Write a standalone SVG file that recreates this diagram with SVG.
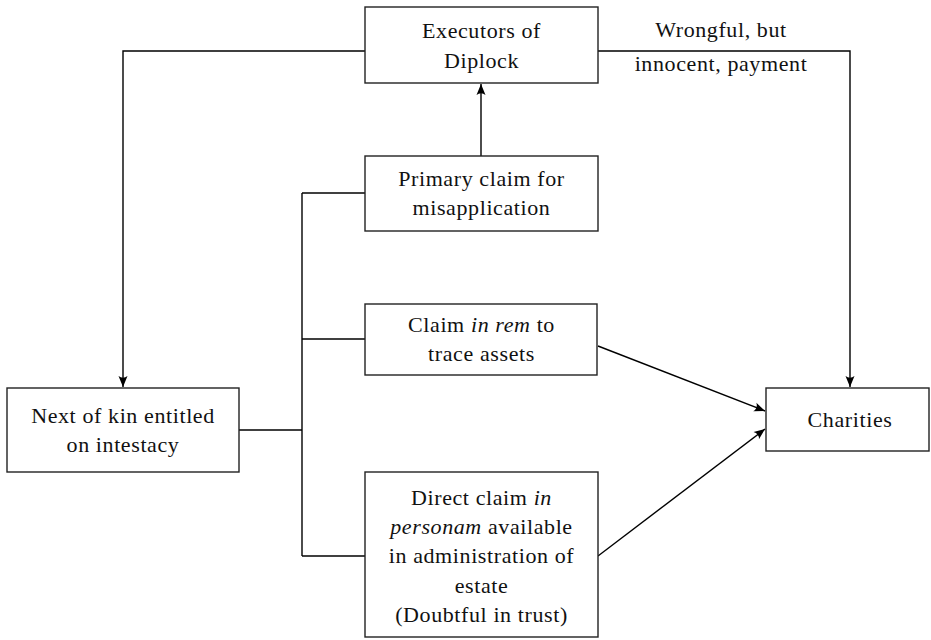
<svg xmlns="http://www.w3.org/2000/svg" width="931" height="640" viewBox="0 0 931 640">
  <defs>
    <marker id="arrow" viewBox="-12 -6 14 12" markerWidth="14" markerHeight="12" refX="0" refY="0" orient="auto" markerUnits="userSpaceOnUse">
      <path d="M0,0 L-11,-4.5 Q-7.5,0 -11,4.5 Z" fill="#000"/>
    </marker>
  </defs>
  <style>
    .box { fill: #fff; stroke: #222; stroke-width: 1.4; }
    .lbl { font-family: "Liberation Serif", "DejaVu Serif", serif; font-size: 22px; letter-spacing: 0.6px; fill: #111; text-anchor: middle; }
    .it { font-style: italic; }
    .wire { fill: none; stroke: #000; stroke-width: 1.4; }
    .arr { marker-end: url(#arrow); }
  </style>

  <rect width="931" height="640" fill="#fff"/>

  <!-- connectors -->
  <g id="connectors">
    <!-- Executors to next of kin -->
    <path class="wire arr" d="M365,51 H123 V387"/>
    <!-- Executors to charities -->
    <path class="wire arr" d="M598,51 H850 V387"/>
    <!-- Primary claim up to executors -->
    <path class="wire arr" d="M481,156 V84"/>
    <!-- next of kin branching bus -->
    <path class="wire" d="M239,430 H302"/>
    <path class="wire" d="M302,193 V556"/>
    <path class="wire" d="M302,193 H365"/>
    <path class="wire" d="M302,339 H365"/>
    <path class="wire" d="M302,556 H365"/>
    <!-- claims to charities -->
    <path class="wire arr" d="M598,346 L765,411"/>
    <path class="wire arr" d="M598,556 L765,429"/>
  </g>

  <!-- nodes -->
  <g id="executors">
    <rect class="box" x="365" y="7" width="233" height="76"/>
    <text class="lbl" x="481.5" y="37.5">Executors of</text>
    <text class="lbl" x="481.5" y="68">Diplock</text>
  </g>

  <g id="payment-label">
    <text class="lbl" x="721" y="37">Wrongful, but</text>
    <text class="lbl" x="721" y="71">innocent, payment</text>
  </g>

  <g id="primary-claim">
    <rect class="box" x="365" y="156" width="233" height="75"/>
    <text class="lbl" x="481.5" y="186">Primary claim for</text>
    <text class="lbl" x="481.5" y="214.5">misapplication</text>
  </g>

  <g id="claim-in-rem">
    <rect class="box" x="365" y="304" width="232" height="71"/>
    <text class="lbl" x="481.5" y="332">Claim <tspan class="it">in rem</tspan> to</text>
    <text class="lbl" x="481.5" y="361">trace assets</text>
  </g>

  <g id="next-of-kin">
    <rect class="box" x="7" y="388" width="232" height="84"/>
    <text class="lbl" x="123" y="423">Next of kin entitled</text>
    <text class="lbl" x="123" y="452">on intestacy</text>
  </g>

  <g id="direct-claim">
    <rect class="box" x="365" y="472" width="233" height="165"/>
    <text class="lbl" x="481.5" y="505">Direct claim <tspan class="it">in</tspan></text>
    <text class="lbl" x="481.5" y="534"><tspan class="it">personam</tspan> available</text>
    <text class="lbl" x="481.5" y="563">in administration of</text>
    <text class="lbl" x="481.5" y="593">estate</text>
    <text class="lbl" x="481.5" y="622">(Doubtful in trust)</text>
  </g>

  <g id="charities">
    <rect class="box" x="766" y="388" width="163" height="63"/>
    <text class="lbl" x="850" y="427">Charities</text>
  </g>
</svg>
